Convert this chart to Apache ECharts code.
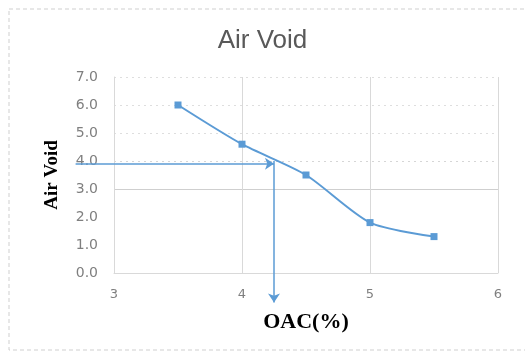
<!DOCTYPE html>
<html>
<head>
<meta charset="utf-8">
<script src="https://cdn.jsdelivr.net/npm/echarts@6/dist/echarts.min.js"></script>
<style>
  html, body { margin: 0; padding: 0; background: #fff; }
  #chart { width: 525px; height: 352px; }
</style>
</head>
<body>
<div id="chart"></div>
<script>
// Bitumen content (%) and measured air voids
const oacValues = [3.5, 4.0, 4.5, 5.0, 5.5];
const airVoidValues = [6.0, 4.6, 3.5, 1.8, 1.3];

// Design read-off: target air void and resulting optimum asphalt content
const targetAirVoid = 3.9;
const optimumOac = 4.25;
const guideStartX = 2.7;   // horizontal guide starts left of the y axis
const guideEndY = -1.05;   // vertical guide runs below the x axis

const xTicks = [3, 4, 5, 6];
const yTicks = [0, 1, 2, 3, 4, 5, 6, 7];

const blue = '#5b9bd5';
const clear = 'rgba(0,0,0,0)';

const chart = echarts.init(document.getElementById('chart'));

chart.setOption({
  animation: false,
  backgroundColor: '#fff',
  title: {
    text: 'Air Void',
    left: 'center',
    top: 23,
    textStyle: { fontFamily: 'Liberation Sans', fontSize: 26, fontWeight: 'normal', color: '#595959' }
  },
  graphic: [{
    type: 'rect',
    shape: { x: 9, y: 9, width: 600, height: 341 },
    style: { fill: 'none', stroke: '#cfcfcf', lineWidth: 1, lineDash: [4, 3] },
    silent: true
  }],
  grid: { left: 114, right: 27, top: 77, bottom: 79 },
  xAxis: {
    type: 'value',
    min: xTicks[0], max: xTicks[xTicks.length - 1], interval: 1,
    name: 'OAC(%)',
    nameLocation: 'middle',
    nameGap: 38,
    nameTextStyle: { fontFamily: 'Liberation Serif', fontWeight: 'bold', fontSize: 22, color: '#000' },
    axisLine: { show: true, lineStyle: { color: '#d9d9d9' } },
    axisTick: { show: false },
    axisLabel: { margin: 15, fontFamily: 'DejaVu Sans', fontSize: 13, color: '#7f7f7f' },
    splitLine: { show: true, lineStyle: { color: '#d9d9d9', width: 1 } }
  },
  yAxis: [{
    type: 'value',
    min: yTicks[0], max: yTicks[yTicks.length - 1], interval: 1,
    name: 'Air Void',
    nameLocation: 'middle',
    nameGap: 52,
    nameRotate: 90,
    nameTextStyle: { fontFamily: 'Liberation Serif', fontWeight: 'bold', fontSize: 19, color: '#000' },
    axisLine: { show: true, lineStyle: { color: '#d9d9d9' } },
    axisTick: { show: false },
    axisLabel: {
      margin: 16, fontFamily: 'DejaVu Sans', fontSize: 14, color: '#7f7f7f',
      formatter: v => v.toFixed(1)
    },
    splitLine: {
      show: true,
      lineStyle: {
        color: ['#d9d9d9', clear, clear, '#cfcfcf', clear, clear, clear, clear],
        width: 1
      }
    }
  }, {
    // dotted upper gridlines
    type: 'value',
    position: 'left',
    min: yTicks[0], max: yTicks[yTicks.length - 1], interval: 1,
    axisLine: { show: false },
    axisTick: { show: false },
    axisLabel: { show: false },
    splitLine: {
      show: true,
      lineStyle: {
        type: [2, 4],
        color: [clear, clear, clear, clear, '#d6d6d6', '#dedede', '#dedede', '#dedede'],
        width: 1
      }
    }
  }],
  series: [{
    type: 'line',
    data: oacValues.map((x, i) => [x, airVoidValues[i]]),
    smooth: 0.25,
    symbol: 'rect',
    symbolSize: 7,
    lineStyle: { color: blue, width: 2 },
    itemStyle: { color: blue },
    z: 3
  }, {
    // guides from the target air void across to the curve and down to the optimum content
    type: 'lines',
    coordinateSystem: 'cartesian2d',
    clip: false,
    silent: true,
    symbol: ['none', 'arrow'],
    symbolSize: 9,
    lineStyle: { color: blue, width: 1.5, opacity: 1 },
    z: 4,
    data: [
      { coords: [[guideStartX, targetAirVoid], [optimumOac, targetAirVoid]] },
      { coords: [[optimumOac, targetAirVoid + 0.1], [optimumOac, guideEndY]] }
    ]
  }]
});
</script>
</body>
</html>
